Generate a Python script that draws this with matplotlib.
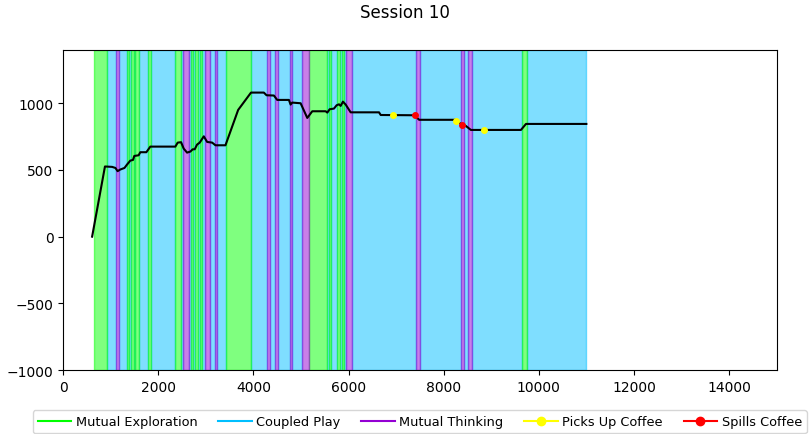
import matplotlib
matplotlib.use("Agg")
import matplotlib.pyplot as plt
from matplotlib.lines import Line2D

# interaction state spans (start, end) in ms
exploration_spans = [(650, 930), (1343, 1377), (1428, 1483), (1518, 1588), (1786, 1849),
                     (2361, 2480), (2691, 2733), (2782, 2838), (2872, 2923), (3420, 3960),
                     (5175, 5554), (5589, 5639), (5765, 5814), (5856, 5905), (9653, 9752)]
thinking_spans = [(1112, 1175), (2523, 2641), (2977, 3082), (3188, 3245), (4276, 4339),
                  (4445, 4515), (4761, 4817), (5028, 5175), (5940, 6081), (7429, 7498),
                  (8362, 8418), (8515, 8593)]
coupled_spans = [(930, 1112), (1175, 1343), (1377, 1428), (1483, 1518), (1588, 1786),
                 (1849, 2361), (2480, 2523), (2641, 2691), (2733, 2782), (2838, 2872),
                 (2923, 2977), (3082, 3188), (3245, 3420), (3960, 4276), (4339, 4445),
                 (4515, 4761), (4817, 5028), (5554, 5589), (5639, 5765), (5814, 5856),
                 (5905, 5940), (6081, 7429), (7498, 8362), (8418, 8515), (8593, 9653),
                 (9752, 11000)]

# score trace
time_values = [610, 880, 1030, 1100, 1146, 1200, 1290, 1343, 1413, 1469, 1497, 1588, 1623,
               1750, 1834, 2360, 2409, 2480, 2535, 2606, 2676, 2725, 2767, 2816, 2872, 2957,
               3028, 3133, 3203, 3413, 3680, 3950, 4220, 4277, 4431, 4501, 4747, 4782, 4817,
               4993, 5133, 5238, 5519, 5554, 5603, 5694, 5750, 5800, 5835, 5883, 5940, 6045,
               6641, 6677, 7387, 7484, 8256, 8377, 8467, 8572, 9625, 9730, 11000]
score_values = [0, 526, 523, 515, 491, 503, 515, 540, 570, 575, 605, 610, 633,
                633, 675, 675, 705, 708, 660, 630, 638, 655, 655, 690, 705, 752,
                710, 705, 685, 685, 950, 1080, 1080, 1060, 1058, 1025, 1025, 990, 1005,
                1000, 890, 940, 940, 930, 955, 960, 985, 992, 980, 1012, 990, 932,
                932, 912, 910, 876, 876, 840, 830, 800, 800, 845, 845]

pickup_x = [6943, 8270, 8852]
pickup_y = [910, 870, 800]
spill_x = [7400, 8377]
spill_y = [910, 840]

state_colors = {"Mutual Exploration": "lime", "Coupled Play": "deepskyblue",
                "Mutual Thinking": "darkviolet"}

fig = plt.figure(figsize=(8.09, 4.35), dpi=100)
ax = fig.add_axes([0.078, 0.147, 0.882, 0.736])

for spans, label in [(coupled_spans, "Coupled Play"),
                     (exploration_spans, "Mutual Exploration"),
                     (thinking_spans, "Mutual Thinking")]:
    for start, end in spans:
        ax.axvspan(start, end, color=state_colors[label], alpha=0.5)

ax.plot(time_values, score_values, color="black", linewidth=1.5)
ax.plot(pickup_x, pickup_y, "o", color="yellow", markersize=4, zorder=3)
ax.plot(spill_x, spill_y, "o", color="red", markersize=4, zorder=3)

ax.set_xlim(0, 15000)
ax.set_ylim(-1000, 1400)
ax.set_yticks([-1000, -500, 0, 500, 1000])

handles = [
    Line2D([], [], color=state_colors["Mutual Exploration"], label="Mutual Exploration"),
    Line2D([], [], color=state_colors["Coupled Play"], label="Coupled Play"),
    Line2D([], [], color=state_colors["Mutual Thinking"], label="Mutual Thinking"),
    Line2D([], [], color="yellow", marker="o", label="Picks Up Coffee"),
    Line2D([], [], color="red", marker="o", label="Spills Coffee"),
]
ax.legend(handles=handles, loc="upper center", bbox_to_anchor=(0.5, -0.105), ncol=5,
          fontsize=9.3, handlelength=2.6, handletextpad=0.35, columnspacing=1.6)

fig.suptitle("Session 10", x=0.5, y=0.99, fontsize=12)
fig.savefig("out.png", dpi=100)
